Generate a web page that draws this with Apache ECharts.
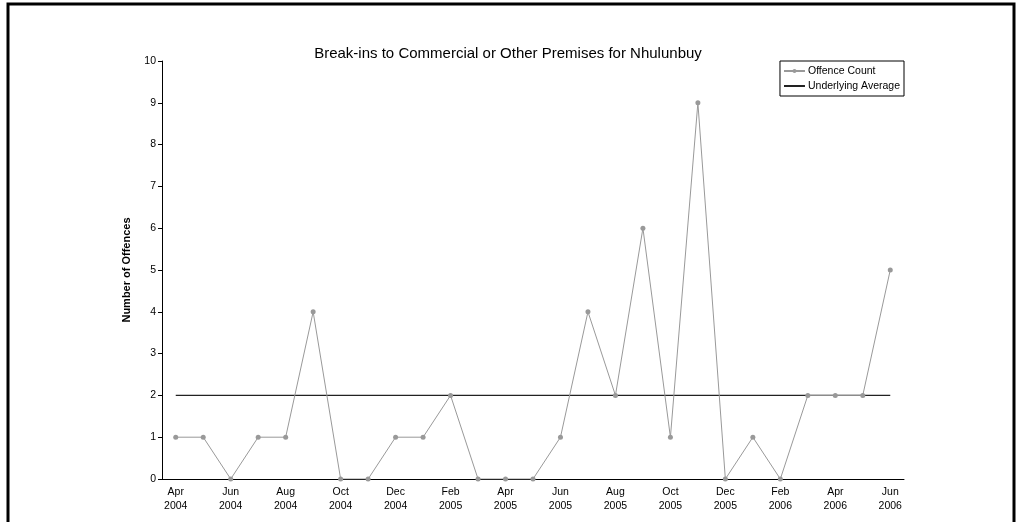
<!DOCTYPE html>
<html>
<head>
<meta charset="utf-8">
<script src="https://cdn.jsdelivr.net/npm/echarts@6/dist/echarts.min.js"></script>
<style>
  html, body { margin: 0; padding: 0; background: #fff; }
  #main { width: 1020px; height: 522px; }
</style>
</head>
<body>
<div id="main"></div>
<script>
// months Apr 2004 .. Jun 2006
var months = ['Apr\n2004', 'May\n2004', 'Jun\n2004', 'Jul\n2004', 'Aug\n2004', 'Sep\n2004', 'Oct\n2004', 'Nov\n2004', 'Dec\n2004',
    'Jan\n2005', 'Feb\n2005', 'Mar\n2005', 'Apr\n2005', 'May\n2005', 'Jun\n2005', 'Jul\n2005', 'Aug\n2005', 'Sep\n2005',
    'Oct\n2005', 'Nov\n2005', 'Dec\n2005', 'Jan\n2006', 'Feb\n2006', 'Mar\n2006', 'Apr\n2006', 'May\n2006', 'Jun\n2006'];
var offenceCount = [1, 1, 0, 1, 1, 4, 0, 0, 1, 1, 2, 0, 0, 0, 1, 4, 2, 6, 1, 9, 0, 1, 0, 2, 2, 2, 5];
var underlyingAvg = [2, 2, 2, 2, 2, 2, 2, 2, 2, 2, 2, 2, 2, 2, 2, 2, 2, 2, 2, 2, 2, 2, 2, 2, 2, 2, 2];

var chart = echarts.init(document.getElementById('main'));
var font = 'Liberation Sans, Arial, sans-serif';

var option = {
    animation: false,
    textStyle: { fontFamily: font },
    graphic: [{
        type: 'rect',
        shape: { x: 8, y: 4, width: 1006, height: 540 },
        style: { fill: 'none', stroke: '#000', lineWidth: 3 },
        silent: true
    }],
    title: {
        text: 'Break-ins to Commercial or Other Premises for Nhulunbuy',
        left: 503,
        top: 41,
        textAlign: 'center',
        textStyle: { fontSize: 15, fontWeight: 'normal', color: '#000', fontFamily: font }
    },
    legend: {
        right: 116,
        top: 61,
        orient: 'vertical',
        itemGap: 3,
        itemWidth: 21,
        itemHeight: 5,
        padding: [4, 4, 4, 3],
        borderColor: '#000',
        borderWidth: 1,
        borderRadius: 0,
        textStyle: { fontSize: 10.5, color: '#000', padding: [0, 0, 0, -2], lineHeight: 12 },
        data: [
            { name: 'Offence Count' },
            { name: 'Underlying Average', itemStyle: { opacity: 0 } }
        ]
    },
    grid: { left: 162, right: 116, top: 61, bottom: 43 },
    xAxis: {
        type: 'category',
        data: months,
        boundaryGap: true,
        axisLine: { lineStyle: { color: '#000', width: 1 } },
        axisTick: { interval: 0, length: 4, lineStyle: { color: '#000' } },
        axisLabel: { interval: 1, fontSize: 10.5, color: '#000', lineHeight: 14, margin: 6 }
    },
    yAxis: {
        type: 'value',
        min: 0,
        max: 10,
        interval: 1,
        name: 'Number of Offences',
        nameLocation: 'middle',
        nameGap: 30,
        nameTextStyle: { fontSize: 11, fontWeight: 'bold', color: '#000' },
        splitLine: { show: false },
        axisLine: { show: true, lineStyle: { color: '#000' } },
        axisTick: { show: true, length: 4, lineStyle: { color: '#000' } },
        axisLabel: { fontSize: 10.5, color: '#000', margin: 6 }
    },
    series: [{
        name: 'Offence Count',
        type: 'line',
        data: offenceCount,
        symbol: 'circle',
        symbolSize: 5,
        color: '#999',
        lineStyle: { color: '#999', width: 1 },
        itemStyle: { color: '#999' },
        z: 3
    }, {
        name: 'Underlying Average',
        type: 'line',
        data: underlyingAvg,
        symbol: 'none',
        color: '#222',
        lineStyle: { color: '#222', width: 1.3 },
        z: 2
    }]
};
chart.setOption(option);
</script>
</body>
</html>
